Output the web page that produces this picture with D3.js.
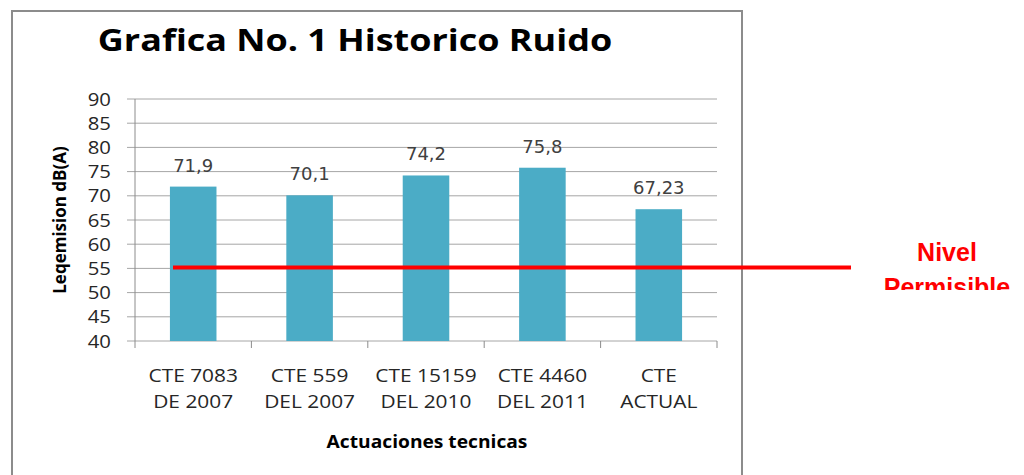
<!DOCTYPE html>
<html>
<head>
<meta charset="utf-8">
<script src="https://cdn.jsdelivr.net/npm/d3@7"></script>
<style>
  body { margin: 0; background: #fff; }
  svg { display: block; }
</style>
</head>
<body>
<svg width="1024" height="475"></svg>
<script>
// chart data
const categories = [
  ["CTE 7083", "DE 2007"],
  ["CTE 559", "DEL 2007"],
  ["CTE 15159", "DEL 2010"],
  ["CTE 4460", "DEL 2011"],
  ["CTE", "ACTUAL"]
];
const values = [71.9, 70.1, 74.2, 75.8, 67.23];
const valueLabels = ["71,9", "70,1", "74,2", "75,8", "67,23"];
const yTicks = [40, 45, 50, 55, 60, 65, 70, 75, 80, 85, 90];
const limitValue = 55;
const limitLabel = ["Nivel", "Permisible"];

const font = "'Open Sans', Lato, sans-serif";
// the original picture is a bit stretched sideways
const sx = 1.13;
const at = (px, py, s) => "translate(" + px + "," + py + ") scale(" + (s || sx) + ",1)";
const svg = d3.select("svg");

// outer chart frame (bottom edge is off the picture)
svg.append("rect")
  .attr("x", 12).attr("y", 11)
  .attr("width", 730).attr("height", 480)
  .attr("fill", "none")
  .attr("stroke", "#8c8c8c")
  .attr("stroke-width", 2);

svg.append("text")
  .attr("transform", at(355, 51, 1.16))
  .attr("text-anchor", "middle")
  .attr("font-family", font)
  .attr("font-weight", "bold")
  .attr("font-size", 31)
  .attr("fill", "#000")
  .text("Grafica No. 1 Historico Ruido");

const x0 = 135, x1 = 717;
const x = d3.scaleBand()
  .domain(d3.range(categories.length))
  .range([x0, x1]);
const y = d3.scaleLinear()
  .domain([40, 90])
  .range([341, 99]);

// gridlines + y ticks
svg.append("g")
  .selectAll("line")
  .data(yTicks)
  .enter().append("line")
  .attr("x1", 127).attr("x2", x1)
  .attr("y1", d => y(d)).attr("y2", d => y(d))
  .attr("stroke", "#a6a6a6")
  .attr("stroke-width", 1);

svg.append("g")
  .selectAll("text")
  .data(yTicks)
  .enter().append("text")
  .attr("transform", d => at(111, y(d) + 6.5))
  .attr("text-anchor", "end")
  .attr("font-family", font)
  .attr("font-size", 18)
  .attr("fill", "#262626")
  .text(d => d);

// y axis line
svg.append("line")
  .attr("x1", x0).attr("x2", x0)
  .attr("y1", y(90)).attr("y2", y(40))
  .attr("stroke", "#8c8c8c");

// category tick marks
svg.append("g")
  .selectAll("line")
  .data(d3.range(categories.length + 1))
  .enter().append("line")
  .attr("x1", i => x0 + i * x.bandwidth())
  .attr("x2", i => x0 + i * x.bandwidth())
  .attr("y1", y(40)).attr("y2", y(40) + 7)
  .attr("stroke", "#8c8c8c");

// bars
const barW = x.bandwidth() * 0.4;
svg.append("g")
  .selectAll("rect")
  .data(values)
  .enter().append("rect")
  .attr("x", (d, i) => x(i) + (x.bandwidth() - barW) / 2)
  .attr("y", d => y(d))
  .attr("width", barW)
  .attr("height", d => y(40) - y(d))
  .attr("fill", "#4bacc6");

// value labels
svg.append("g")
  .selectAll("text")
  .data(values)
  .enter().append("text")
  .attr("x", (d, i) => x(i) + x.bandwidth() / 2)
  .attr("y", d => y(d) - 15)
  .attr("text-anchor", "middle")
  .attr("font-family", "'DejaVu Sans', Verdana, sans-serif")
  .attr("font-size", 18)
  .attr("fill", "#404040")
  .text((d, i) => valueLabels[i]);

// category labels, two lines each
const cat = svg.append("g")
  .selectAll("text")
  .data(categories)
  .enter().append("text")
  .attr("transform", (d, i) => at(x(i) + x.bandwidth() / 2, 0))
  .attr("text-anchor", "middle")
  .attr("font-family", font)
  .attr("font-size", 18.5)
  .attr("fill", "#262626");
cat.append("tspan")
  .attr("x", 0).attr("y", 382)
  .text(d => d[0]);
cat.append("tspan")
  .attr("x", 0).attr("y", 408)
  .text(d => d[1]);

// axis titles
svg.append("text")
  .attr("transform", at(427, 448))
  .attr("text-anchor", "middle")
  .attr("font-family", font)
  .attr("font-weight", "bold")
  .attr("font-size", 17)
  .attr("fill", "#000")
  .text("Actuaciones tecnicas");

svg.append("text")
  .attr("transform", "translate(66,220) rotate(-90)")
  .attr("text-anchor", "middle")
  .attr("font-family", font)
  .attr("font-weight", "bold")
  .attr("font-size", 17)
  .attr("fill", "#000")
  .text("Leqemision dB(A)");

// permissible level line
svg.append("line")
  .attr("x1", 173).attr("x2", 851)
  .attr("y1", y(limitValue) - 1).attr("y2", y(limitValue) - 1)
  .attr("stroke", "#ff0000")
  .attr("stroke-width", 4);

svg.append("clipPath").attr("id", "cut")
  .append("rect").attr("x", 800).attr("y", 200).attr("width", 224).attr("height", 90);

svg.append("g").attr("clip-path", "url(#cut)")
  .selectAll("text")
  .data(limitLabel)
  .enter().append("text")
  .attr("x", 947)
  .attr("y", (d, i) => 261 + i * 35)
  .attr("text-anchor", "middle")
  .attr("font-family", "'Liberation Sans', Arial, sans-serif")
  .attr("font-weight", "bold")
  .attr("font-size", 25)
  .attr("fill", "#ff0000")
  .text(d => d);
</script>
</body>
</html>
